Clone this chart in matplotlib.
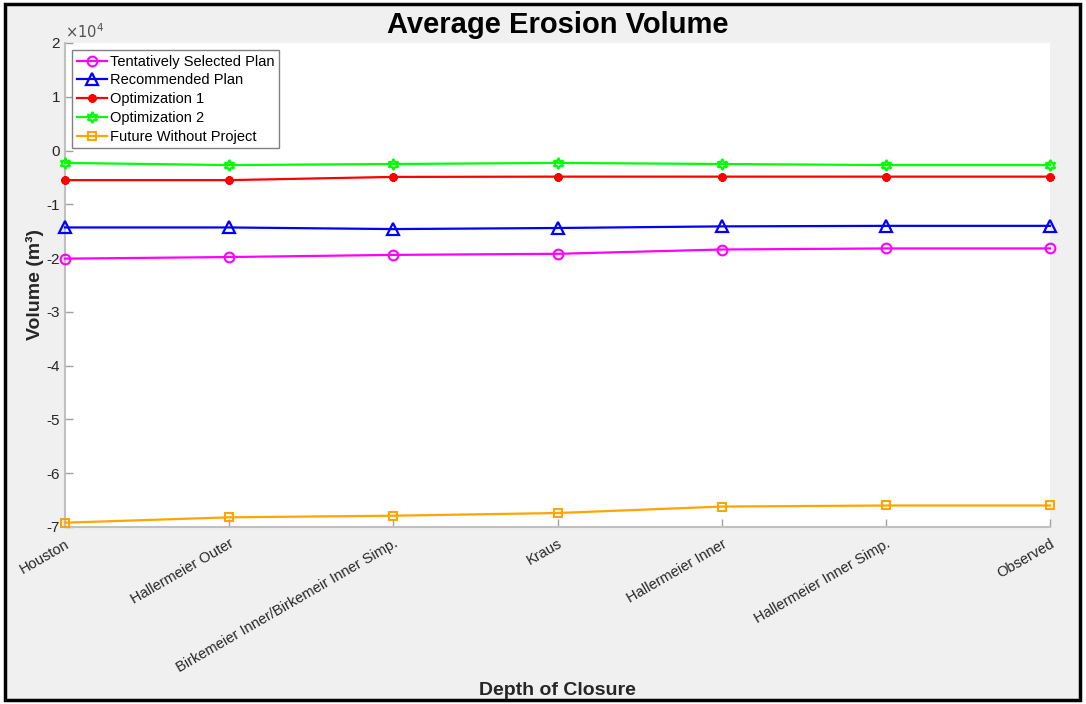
import numpy as np
import matplotlib.pyplot as plt
from matplotlib.patches import Rectangle
from matplotlib.ticker import FuncFormatter

plt.rcParams['font.family'] = ['Liberation Sans', 'DejaVu Sans']
plt.rcParams['axes.unicode_minus'] = False

closures = ['Houston', 'Hallermeier Outer', 'Birkemeier Inner/Birkemeir Inner Simp.',
            'Kraus', 'Hallermeier Inner', 'Hallermeier Inner Simp.', 'Observed']

# average erosion volume per depth of closure (m^3)
tsp = [-20100, -19800, -19400, -19200, -18400, -18200, -18200]
recommended = [-14300, -14300, -14600, -14400, -14100, -14000, -14000]
opt1 = [-5500, -5500, -4900, -4850, -4850, -4850, -4850]
opt2 = [-2300, -2700, -2500, -2300, -2500, -2700, -2700]
fwop = [-69200, -68200, -67900, -67400, -66200, -66000, -66000]

x = np.arange(len(closures))

fig = plt.figure(figsize=(10.86, 7.04), dpi=100, facecolor='white')
# grey panel with black frame
fig.patches.append(Rectangle((5 / 1086, 4 / 704), 1075 / 1086, 696 / 704,
                             transform=fig.transFigure, facecolor='#f0f0f0',
                             edgecolor='black', linewidth=2.5, zorder=-10))

ax = fig.add_axes([65 / 1086, 1 - 527 / 704, 985 / 1086, 484 / 704])
ax.set_facecolor('white')

lw = 1.6
style = dict(lw=lw, clip_on=False, zorder=3)
ax.plot(x, tsp, color='#ff00ff', marker='o', mfc='none', ms=7, mew=1.5,
        label='Tentatively Selected Plan', **style)
ax.plot(x, recommended, color='#0000ff', marker='^', mfc='none', ms=8, mew=1.6,
        label='Recommended Plan', **style)
ax.plot(x, opt1, color='#ff0000', marker=(8, 2, 0), ms=6, mew=2,
        label='Optimization 1', **style)
ax.plot(x, opt2, color='#00ff00', marker=(6, 1, 0), mfc='none', ms=8, mew=1.5,
        label='Optimization 2', **style)
ax.plot(x, fwop, color='#ffa500', marker='s', mfc='none', ms=6, mew=1.5,
        label='Future Without Project', **style)

ax.set_xlim(0, len(closures) - 1)
ax.set_ylim(-70000, 20000)
ax.set_yticks(np.arange(-70000, 20001, 10000))
ax.yaxis.set_major_formatter(FuncFormatter(lambda v, pos: f'{v / 1e4:g}'))
ax.text(0, 1.005, r'$\times10^4$', transform=ax.transAxes, fontsize=10.5,
        color='#505050', ha='left', va='bottom')

ax.set_xticks(x)
ax.set_xticklabels(closures, rotation=30, ha='right', rotation_mode='anchor')

for side in ['top', 'right']:
    ax.spines[side].set_visible(False)
for side in ['left', 'bottom']:
    ax.spines[side].set_color('#c0c0c0')
    ax.spines[side].set_linewidth(1.5)
ax.tick_params(direction='in', length=6, width=1, color='#a0a0a0',
               labelsize=11, labelcolor='#262626')
ax.tick_params(axis='x', pad=7, labelsize=10.5)

ax.set_title('Average Erosion Volume', fontsize=21, fontweight='bold', pad=7)
ax.set_ylabel('Volume (m³)', fontsize=14, fontweight='bold', color='#262626')
ax.yaxis.set_label_coords(-0.021, 0.5)
ax.set_xlabel('Depth of Closure', fontsize=14, fontweight='bold', color='#262626')
ax.xaxis.set_label_coords(0.5, -0.32)

leg = ax.legend(loc='upper left', fontsize=10.5, fancybox=False, framealpha=1,
                edgecolor='#808080', borderpad=0.3, labelspacing=0.33,
                handlelength=2.1, handletextpad=0.2, borderaxespad=0.5)
leg.get_frame().set_linewidth(1)

fig.savefig('out.png', dpi=100, facecolor=fig.get_facecolor())
